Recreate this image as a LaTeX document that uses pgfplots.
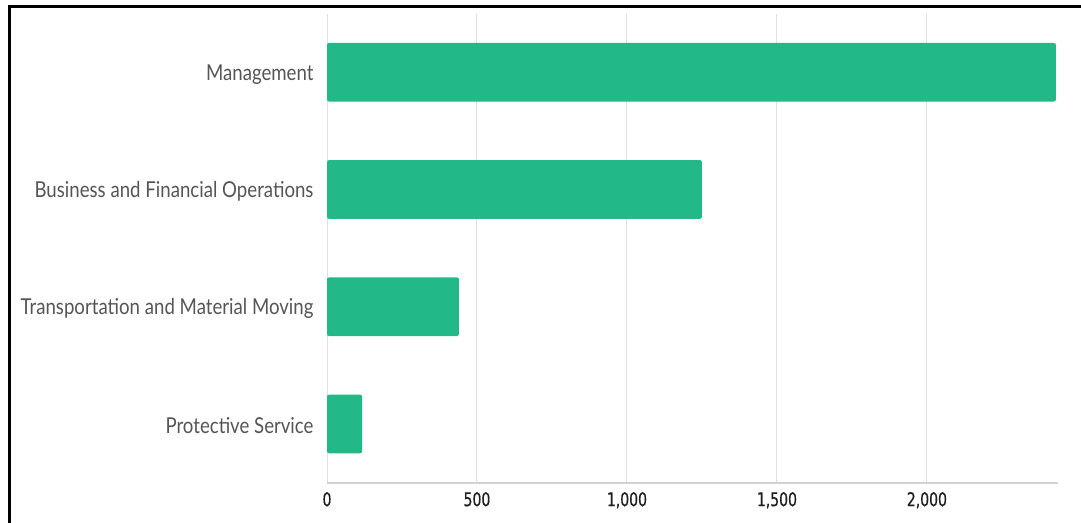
\documentclass[border=0pt]{standalone}
\usepackage{fontspec}
\usepackage{pgfplots}
\pgfplotsset{compat=1.18}
\newfontfamily\labfont[FakeStretch=0.85]{Lato}
\newfontfamily\numfont[FakeStretch=0.74, FakeBold=0.6]{DejaVu Sans}
\definecolor{barc}{RGB}{35,184,135}
\definecolor{labc}{RGB}{85,85,85}
\definecolor{numc}{RGB}{30,30,30}
\definecolor{gridc}{RGB}{224,224,224}
\definecolor{axc}{RGB}{210,210,210}
\begin{document}
\begin{tikzpicture}
\useasboundingbox (0,0) rectangle (1081bp,523bp);
\draw[line width=3bp, black] (9bp,-5bp) -- (9bp,516bp) -- (1090bp,516bp);
\begin{axis}[
  at={(327bp,40.4bp)}, anchor=south west,
  scale only axis, width=731bp, height=469bp,
  xbar, bar width=0.5,
  xmin=0, xmax=2437, ymin=-0.5, ymax=3.5,
  ytick={0,1,2,3},
  yticklabels={Protective Service, Transportation and Material Moving, Business and Financial Operations, Management},
  xtick={0,500,1000,1500,2000},
  /pgf/number format/assume math mode=true,
  /pgf/number format/1000 sep={,},
  scaled x ticks=false,
  major tick length=0pt,
  xmajorgrids, grid style={gridc, line width=1bp},
  axis x line*=bottom, axis y line*=left,
  y axis line style={draw=none},
  x axis line style={draw=axc, line width=2bp, -},
  yticklabel style={font=\labfont\fontsize{22}{25}\selectfont, text=labc, xshift=-10bp, yshift=-2bp},
  xticklabel style={font=\numfont\fontsize{19}{22}\selectfont, text=numc, yshift=-6bp},
  clip=false,
]
\addplot[fill=barc, draw=none, rounded corners=2bp] coordinates {(117,0) (440,1) (1250,2) (2430,3)};
\end{axis}
\end{tikzpicture}
\end{document}
